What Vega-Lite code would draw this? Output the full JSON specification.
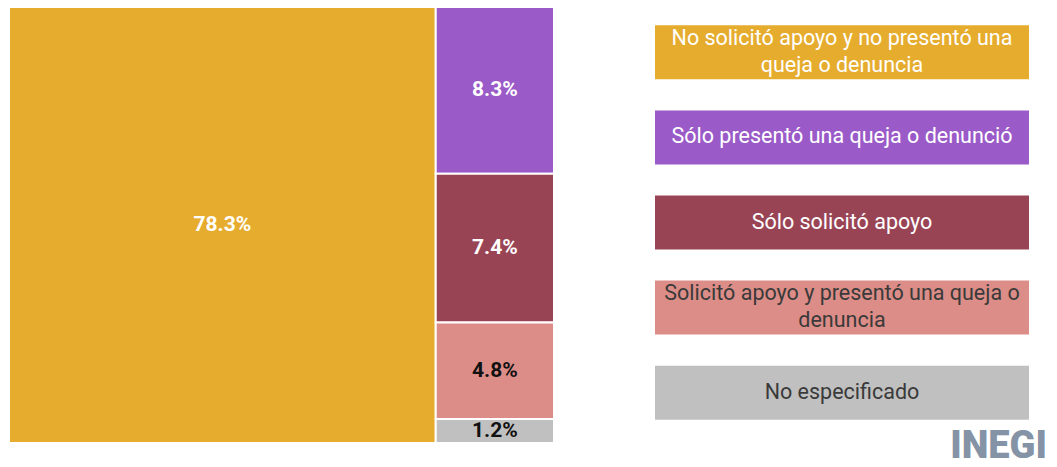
{
  "$schema": "https://vega.github.io/schema/vega-lite/v6.json",
  "padding": {"left": 7, "top": 5, "right": 0, "bottom": 0},
  "background": "white",
  "config": {"font": "Roboto", "view": {"stroke": null}},
  "datasets": {
    "d": [
      {"label": "No solicitó apoyo y no presentó una\nqueja o denuncia", "value": 0.783, "col": "A", "order": 1},
      {"label": "Sólo presentó una queja o denunció", "value": 0.083, "col": "B", "order": 2},
      {"label": "Sólo solicitó apoyo", "value": 0.074, "col": "B", "order": 3},
      {"label": "Solicitó apoyo y presentó una queja o\ndenuncia", "value": 0.048, "col": "B", "order": 4},
      {"label": "No especificado", "value": 0.012, "col": "B", "order": 5}
    ]
  },
  "spacing": 99,
  "hconcat": [
    {
      "width": 545,
      "height": 436,
      "data": {"name": "d"},
      "view": {"stroke": "#dcdcdc", "strokeWidth": 2},
      "transform": [
        {"stack": "value", "groupby": [], "sort": [{"field": "order"}], "as": ["s0", "s1"]},
        {"joinaggregate": [{"op": "min", "field": "s0", "as": "x0"}, {"op": "max", "field": "s1", "as": "x1"}], "groupby": ["col"]},
        {"stack": "value", "groupby": ["col"], "sort": [{"field": "order"}], "offset": "normalize", "as": ["y0", "y1"]}
      ],
      "layer": [
        {
          "mark": {"type": "rect", "stroke": "white", "strokeWidth": 2},
          "encoding": {
            "x": {"field": "x0", "type": "quantitative", "scale": {"domain": [0, 1], "nice": false, "zero": false}, "axis": null},
            "x2": {"field": "x1"},
            "y": {"field": "y0", "type": "quantitative", "scale": {"domain": [0, 1], "nice": false, "zero": false, "reverse": true}, "axis": null},
            "y2": {"field": "y1"},
            "color": {"field": "order", "type": "ordinal", "scale": {"range": ["#E6AC2E", "#9A5BC8", "#994455", "#DC8D87", "#C0C0C0"]}, "legend": null}
          }
        },
        {
          "transform": [
            {"fold": ["x0", "x1"], "as": ["kx", "vx"]},
            {"fold": ["y0", "y1"], "as": ["ky", "vy"]},
            {"aggregate": [{"op": "mean", "field": "vx", "as": "xm"}, {"op": "mean", "field": "vy", "as": "ym"}], "groupby": ["order", "value"]}
          ],
          "mark": {"type": "text", "fontWeight": "bold", "fontSize": 21},
          "encoding": {
            "x": {"field": "xm", "type": "quantitative"},
            "y": {"field": "ym", "type": "quantitative"},
            "text": {"field": "value", "type": "quantitative", "format": ".1%"},
            "color": {"field": "order", "type": "ordinal", "scale": {"range": ["#ffffff", "#ffffff", "#ffffff", "#111111", "#111111"]}, "legend": null}
          }
        }
      ],
      "resolve": {"scale": {"color": "independent"}}
    },
    {
      "width": 374,
      "height": 431,
      "data": {"name": "d"},
      "title": {"text": "INEGI", "orient": "bottom", "anchor": "end", "baseline": "alphabetic", "fontSize": 38, "fontWeight": 900, "color": "#8593a6", "offset": 20, "dx": 18, "font": "Roboto"},
      "encoding": {
        "y": {"field": "label", "type": "nominal", "sort": {"field": "order"}, "scale": {"paddingInner": 0.365, "paddingOuter": 0.215}, "axis": null}
      },
      "layer": [
        {
          "mark": {"type": "rect"},
          "encoding": {
            "color": {"field": "order", "type": "ordinal", "scale": {"range": ["#E6AC2E", "#9A5BC8", "#994455", "#DC8D87", "#C0C0C0"]}, "legend": null}
          }
        },
        {
          "transform": [{"filter": "indexof(datum.label, '\\n') < 0"}],
          "mark": {"type": "text", "fontSize": 21.5},
          "encoding": {
            "text": {"field": "label", "type": "nominal"},
            "color": {"field": "order", "type": "ordinal", "scale": {"domain": [1, 2, 3, 4, 5], "range": ["#ffffff", "#ffffff", "#ffffff", "#3a3a3a", "#3a3a3a"]}, "legend": null}
          }
        },
        {
          "transform": [{"filter": "indexof(datum.label, '\\n') >= 0"}],
          "mark": {"type": "text", "fontSize": 21.5, "lineBreak": "\n", "lineHeight": 27, "dy": -13.5},
          "encoding": {
            "text": {"field": "label", "type": "nominal"},
            "color": {"field": "order", "type": "ordinal", "scale": {"domain": [1, 2, 3, 4, 5], "range": ["#ffffff", "#ffffff", "#ffffff", "#3a3a3a", "#3a3a3a"]}, "legend": null}
          }
        }
      ],
      "resolve": {"scale": {"color": "independent"}}
    }
  ]
}
